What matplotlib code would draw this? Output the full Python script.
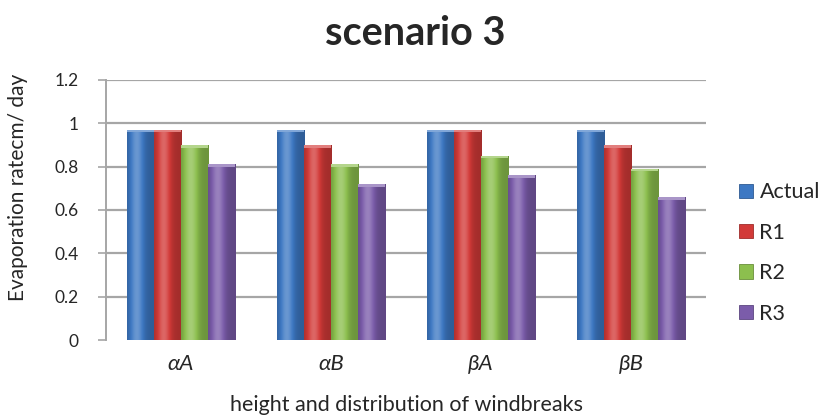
import matplotlib
matplotlib.use("Agg")
import matplotlib.pyplot as plt
import matplotlib.colors as mcolors
import numpy as np

# ── Data ─────────────────────────────────────────────────────────────────────
categories = ["αA", "αB", "βA", "βB"]
series_names = ["Actual", "R1", "R2", "R3"]
actual = [0.97, 0.97, 0.97, 0.97]
r1 = [0.97, 0.90, 0.97, 0.90]
r2 = [0.90, 0.81, 0.85, 0.79]
r3 = [0.81, 0.72, 0.76, 0.66]
y_ticks = [0, 0.2, 0.4, 0.6, 0.8, 1, 1.2]
y_tick_labels = ["0", "0.2", "0.4", "0.6", "0.8", "1", "1.2"]

# ── Style ────────────────────────────────────────────────────────────────────
COLORS = ["#3d78c3", "#d23a38", "#8cbf4e", "#7b5caa"]
GRID = "#a6a6a6"
TEXT = "#262626"
plt.rcParams["font.family"] = ["Lato", "DejaVu Sans"]

fig = plt.figure(figsize=(8.22, 4.2), dpi=100)
ax = fig.add_axes([0.129, 0.19, 0.73, 0.62])

x = np.arange(len(categories))
width = 0.18
values = [actual, r1, r2, r3]


def shade(color, f):
    rgb = np.array(mcolors.to_rgb(color))
    if f >= 0:
        return rgb + (1 - rgb) * f
    return rgb * (1 + f)


for i, (name, vals, col) in enumerate(zip(series_names, values, COLORS)):
    offs = (i - 1.5) * width
    bars = ax.bar(x + offs, vals, width=width, color=col, label=name,
                  edgecolor=shade(col, -0.25), linewidth=0.6, zorder=3)
    # soft horizontal gradient to mimic the bevelled 3D bars
    grad = np.linspace(0, 1, 64)
    prof = -0.22 + 0.45 * np.exp(-((grad - 0.35) / 0.25) ** 2)
    cmap = mcolors.ListedColormap([shade(col, p) for p in prof])
    for b in bars:
        bx, by = b.get_x(), b.get_y()
        bw, bh = b.get_width(), b.get_height()
        im = ax.imshow(grad[np.newaxis, :], cmap=cmap, aspect="auto",
                       extent=[bx, bx + bw, by, by + bh], zorder=3.5,
                       interpolation="bicubic")
        im.set_clip_path(b)
        # bevelled top cap
        ax.bar(bx + bw / 2, 0.012, width=bw, bottom=by + bh - 0.012,
               color=shade(col, 0.35), linewidth=0, zorder=4)

ax.set_xlim(-0.5, len(categories) - 0.5)
ax.set_ylim(0, 1.2)
ax.set_yticks(y_ticks)
ax.set_yticklabels(y_tick_labels, fontsize=12.5, color=TEXT)
ax.set_xticks(x)
ax.set_xticklabels(categories, fontsize=16, style="italic", color=TEXT)
ax.tick_params(axis="x", length=0, pad=10)
ax.tick_params(axis="y", length=6, width=1.2, color=GRID, pad=14)

ax.yaxis.grid(True, color=GRID, linewidth=1.6, zorder=0)
ax.yaxis.get_gridlines()[0].set_visible(False)
ax.set_axisbelow(True)
for s in ["top", "right", "bottom"]:
    ax.spines[s].set_visible(False)
ax.spines["left"].set_color(GRID)
ax.spines["left"].set_linewidth(1.4)

ax.set_ylabel("Evaporation ratecm/ day", fontsize=15, color=TEXT)
ax.yaxis.set_label_coords(-0.13, 0.585)
ax.set_xlabel("height and distribution of windbreaks", fontsize=15.5,
              color=TEXT, labelpad=15)

fig.suptitle("scenario 3", fontsize=28.5, fontweight="bold", color=TEXT,
             x=0.505, y=0.965)

fig.legend(handles=ax.get_legend_handles_labels()[0],
           labels=series_names, loc="center left",
           bbox_to_anchor=(739 / 822, 1 - 253 / 420),
           bbox_transform=fig.transFigure, frameon=False,
           borderpad=0, borderaxespad=0,
           fontsize=15.5, handlelength=0.65, handleheight=0.65,
           handletextpad=0.3, labelspacing=0.95, labelcolor=TEXT)

fig.savefig("out.png", dpi=100)
